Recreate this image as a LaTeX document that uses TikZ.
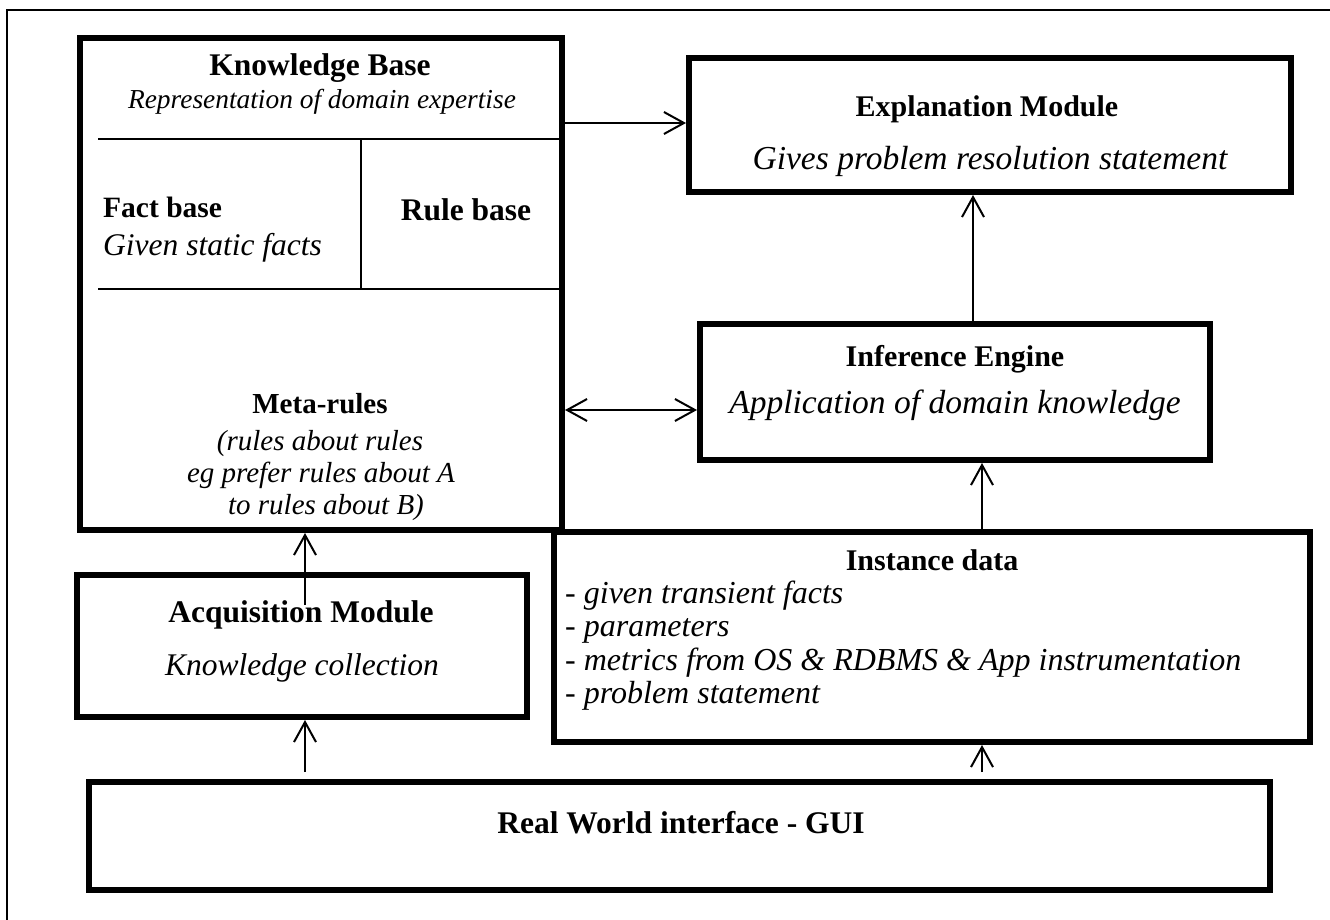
\documentclass[tikz,border=0pt]{standalone}
\usepackage{fontspec}
\setmainfont{Liberation Serif}
\usetikzlibrary{arrows.meta}
\newcommand{\fs}[1]{\fontsize{#1}{#1}\selectfont}
\begin{document}
\begin{tikzpicture}[x=1pt,y=-1pt,
  box/.style={draw, line width=6pt, inner sep=0pt},
  divider/.style={line width=2.5pt},
  frame/.style={line width=2pt},
  tip/.tip={Straight Barb[length=20pt,width=22pt,line width=2pt]},
  arr/.style={line width=2pt, -tip},
  darr/.style={line width=2pt, tip-tip},
  txt/.style={font=\fs{30}, inner sep=0pt, anchor=base},
  lefttxt/.style={txt, anchor=base west},
]
\clip (0,0) rectangle (1330,920);
\fill[white] (0,0) rectangle (1330,920);
% outer frame (cut by the page at right and bottom)
\draw[frame] (7,940) -- (7,10) -- (1350,10);

% boxes
\node[box, minimum width=482pt, minimum height=492pt] (kb) at (321,284) {};
\node[box, minimum width=602pt, minimum height=134pt] (expl) at (990,125) {};
\node[box, minimum width=510pt, minimum height=136pt] (inf) at (955,392) {};
\node[box, minimum width=756pt, minimum height=210pt] (inst) at (932,637) {};
\node[box, minimum width=450pt, minimum height=142pt] (acq) at (302,646) {};
\node[box, minimum width=1181pt, minimum height=108pt] (gui) at (679.5,836) {};

% knowledge base dividers
\draw[divider] (98,139) -- (559,139);
\draw[divider] (98,289) -- (559,289);
\draw[divider] (361,139) -- (361,289);

% texts
\node[txt, font=\fs{31.5}] (kbt) at (320,76) {\bfseries Knowledge Base};
\node[txt, font=\fs{27.4}] (kbs) at (322,109) {\itshape Representation of domain expertise};
\node[lefttxt, font=\fs{29.5}] (fbt) at (103,218) {\bfseries Fact base};
\node[lefttxt, font=\fs{31.5}] (fbs) at (103,255) {\itshape Given static facts};
\node[txt, font=\fs{31.5}] (rbt) at (466,220) {\bfseries Rule base};
\node[txt, font=\fs{29}] (mrt) at (320,413) {\bfseries Meta-rules};
\node[txt, font=\fs{29}] (mr1) at (320,450) {\itshape (rules about rules};
\node[txt, font=\fs{29}] (mr2) at (321,482) {\itshape eg prefer rules about A};
\node[txt, font=\fs{29}] (mr3) at (326,514) {\itshape to rules about B)};

\node[txt, font=\fs{30}] (ext) at (987,117) {\bfseries Explanation Module};
\node[txt, font=\fs{33.5}] (exs) at (990,170) {\itshape Gives problem resolution statement};

\node[txt, font=\fs{30}] (ift) at (955,366) {\bfseries Inference Engine};
\node[txt, font=\fs{33.5}] (ifs) at (955,413) {\itshape Application of domain knowledge};

\node[txt, font=\fs{30}] (idt) at (932,570) {\bfseries Instance data};
\node[lefttxt, font=\fs{32}] (id1) at (565,603) {\itshape - given transient facts};
\node[lefttxt, font=\fs{32}] (id2) at (565,636) {\itshape - parameters};
\node[lefttxt, font=\fs{32}] (id3) at (565,670) {\itshape - metrics from OS \& RDBMS \& App instrumentation};
\node[lefttxt, font=\fs{32}] (id4) at (565,703) {\itshape - problem statement};

\node[txt, font=\fs{31.5}] (act) at (301,622) {\bfseries Acquisition Module};
\node[txt, font=\fs{31.5}] (acs) at (302,675) {\itshape Knowledge collection};

\node[txt, font=\fs{31.5}] (guit) at (681,833) {\bfseries Real World interface - GUI};

% connectors
\coordinate (kbe) at (562,123);
\draw[arr] (kb.east |- kbe) -- (expl.west |- kbe);
\coordinate (kbi) at (562,410);
\draw[darr] (kb.east |- kbi) -- (inf.west |- kbi);
\coordinate (ie) at (973,392);
\draw[arr] (inf.north -| ie) -- (expl.south -| ie);
\coordinate (ii) at (982,600);
\draw[arr] (inst.north -| ii) -- (inf.south -| ii);
\coordinate (acqin) at (305,605);
\draw[arr] (acqin) -- (kb.south -| acqin);
\coordinate (g1) at (305,772);
\draw[arr] (g1) -- (acq.south -| g1);
\coordinate (g2) at (982,772);
\draw[arr] (g2) -- (inst.south -| g2);
\end{tikzpicture}
\end{document}
